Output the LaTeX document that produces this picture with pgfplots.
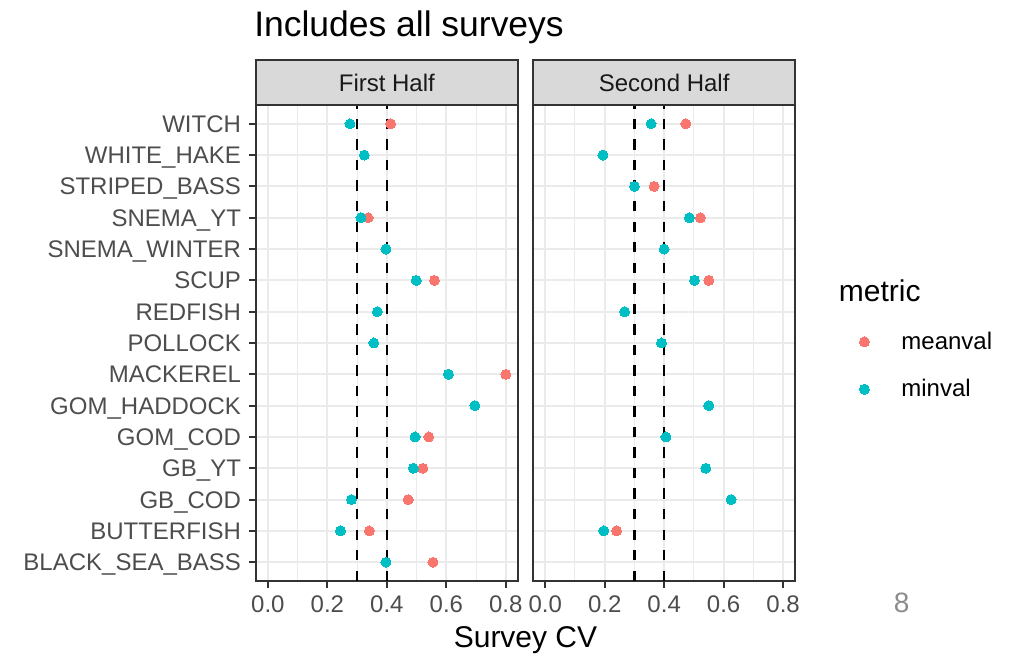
\documentclass[border=0pt]{standalone}
\usepackage{pgfplots}
\pgfplotsset{compat=1.18}
\usepackage{fontspec}
\setmainfont{Liberation Sans}

\definecolor{meancol}{HTML}{F8766D}
\definecolor{mincol}{HTML}{00BFC4}
\definecolor{gridcol}{HTML}{EBEBEB}
\definecolor{framecol}{HTML}{333333}
\definecolor{stripcol}{HTML}{D9D9D9}
\definecolor{tickcol}{HTML}{4D4D4D}
\definecolor{pagecol}{HTML}{8C8C8C}

% Survey CV by stock; y: 1 = BLACK_SEA_BASS ... 15 = WITCH
\pgfplotstableread{
y   cv
15  0.413
12  0.337
10  0.560
7   0.800
5   0.541
4   0.521
3   0.472
2   0.341
1   0.555
}\firstmean
\pgfplotstableread{
y   cv
15  0.276
14  0.324
12  0.313
11  0.397
10  0.499
9   0.368
8   0.356
7   0.607
6   0.696
5   0.495
4   0.489
3   0.281
2   0.244
1   0.397
}\firstmin
\pgfplotstableread{
y   cv
15  0.473
13  0.366
12  0.522
10  0.550
2   0.240
}\secondmean
\pgfplotstableread{
y   cv
15  0.356
14  0.194
13  0.300
12  0.485
11  0.400
10  0.502
9   0.267
8   0.391
6   0.550
5   0.406
4   0.540
3   0.625
2   0.197
}\secondmin

\pgfplotsset{
  panel/.style={
    scale only axis,
    width=196.3pt, height=357pt,
    anchor=south west,
    xmin=-0.04, xmax=0.84, ymin=0.4, ymax=15.6,
    xtick={0,0.2,0.4,0.6,0.8},
    minor xtick={0.1,0.3,0.5,0.7},
    ytick={1,...,15},
    xmajorgrids, xminorgrids, ymajorgrids,
    major grid style={draw=gridcol, line width=1.5pt},
    minor grid style={draw=gridcol, line width=0.75pt},
    axis line style={draw=framecol, line width=1.5pt},
    tick align=outside, tick pos=left,
    major tick length=5.6pt, minor tick length=0pt,
    every tick/.style={draw=framecol, line width=1.5pt},
    /pgf/number format/.cd, fixed, fixed zerofill, precision=1, assume math mode=true,
    /pgfplots/.cd,
    xticklabel style={font=\fontsize{18}{20}\selectfont, text=tickcol, anchor=north, inner sep=0pt, yshift=-5pt},
    yticklabel style={font=\fontsize{18}{20}\selectfont, text=tickcol, anchor=base east, inner sep=0pt, xshift=-5.5pt, yshift=-6.4pt},
    meanmark/.style={only marks, color=meancol, mark=*, mark size=3.75pt, mark options={draw=meancol, fill=meancol, line width=0pt}},
    minmark/.style={only marks, color=mincol, mark=*, mark size=3.75pt, mark options={draw=mincol, fill=mincol, line width=0pt}},
    cutline/.style={black, line width=1.7pt, dash pattern=on 7.8pt off 7.6pt},
  }
}

\begin{document}
\begin{tikzpicture}[x=0.75pt, y=0.75pt]
\useasboundingbox (0,0) rectangle (1015,654);
\coordinate (panelA) at (256,73);
\coordinate (panelB) at (533.3,73);

% First half
\begin{axis}[panel, at={(panelA)},
  yticklabels={BLACK\_SEA\_BASS, BUTTERFISH, GB\_COD, GB\_YT, GOM\_COD, GOM\_HADDOCK, MACKEREL, POLLOCK, REDFISH, SCUP, SNEMA\_WINTER, SNEMA\_YT, STRIPED\_BASS, WHITE\_HAKE, WITCH}]
  \addplot[meanmark] table[x=cv, y=y] {\firstmean};
  \addplot[minmark] table[x=cv, y=y] {\firstmin};
  \addplot[cutline] coordinates {(0.3,0.4) (0.3,15.6)};
  \addplot[cutline] coordinates {(0.4,0.4) (0.4,15.6)};
\end{axis}

% Second half
\begin{axis}[panel, at={(panelB)}, yticklabels={}, y tick style={draw=none},
  legend style={at={(axis description cs:1.246,0.5227)}, anchor=north west,
    draw=none, fill=none, inner sep=0pt, outer sep=0pt,
    font=\fontsize{18}{20}\selectfont, text=black,
    nodes={inner sep=0pt}, column sep=24pt, row sep=21pt},
  legend cell align=left]
  \addplot[meanmark] table[x=cv, y=y] {\secondmean};
  \addlegendentry{meanval}
  \addplot[minmark] table[x=cv, y=y] {\secondmin};
  \addlegendentry{minval}
  \addplot[cutline, forget plot] coordinates {(0.3,0.4) (0.3,15.6)};
  \addplot[cutline, forget plot] coordinates {(0.4,0.4) (0.4,15.6)};
\end{axis}

% Facet strips
\draw[fill=stripcol, draw=framecol, line width=1.5pt] (256,594) rectangle (517.7,549);
\draw[fill=stripcol, draw=framecol, line width=1.5pt] (533.3,594) rectangle (795,549);
\node[font=\fontsize{18}{20}\selectfont, text=black!90] at (386.85,571.5) {First Half};
\node[font=\fontsize{18}{20}\selectfont, text=black!90] at (664.15,571.5) {Second Half};

% Titles
\node[anchor=base west, inner sep=0pt, font=\fontsize{26.6}{30}\selectfont] at (254,617) {Includes all surveys};
\node[anchor=base, inner sep=0pt, font=\fontsize{22.5}{26}\selectfont] at (525.5,7) {Survey CV};
\node[anchor=base west, inner sep=0pt, font=\fontsize{22.5}{26}\selectfont] at (838.7,352.3) {metric};
\node[inner sep=0pt, font=\fontsize{21}{24}\selectfont, text=pagecol] at (901.7,51) {8};
\end{tikzpicture}
\end{document}
